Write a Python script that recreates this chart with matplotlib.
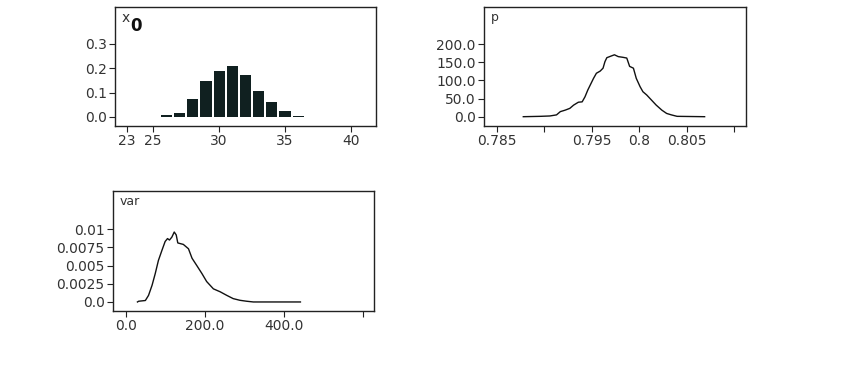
import numpy as np
import matplotlib.pyplot as plt

# x0 : posterior probabilities
x0_vals = [26, 27, 28, 29, 30, 31, 32, 33, 34, 35, 36]
x0_prob = [0.006, 0.018, 0.074, 0.146, 0.19, 0.21, 0.173, 0.105, 0.062, 0.024, 0.005]
x0_ticks = [23, 25, 30, 35, 40]

# p : density
p_x = [0.7878, 0.7896, 0.7906, 0.7913, 0.7917, 0.7922, 0.7927, 0.7931, 0.7936,
       0.7940, 0.7943, 0.7946, 0.7952, 0.7955, 0.7959, 0.7962, 0.7964, 0.7966,
       0.7969, 0.7974, 0.7978, 0.7983, 0.7987, 0.7990, 0.7994, 0.7997, 0.8001,
       0.8004, 0.8008, 0.8013, 0.8018, 0.8024, 0.8029, 0.8034, 0.8040, 0.8069]
p_y = [0, 1, 2, 5, 14, 18, 23, 32, 40, 41, 55, 74, 106, 120, 126, 134, 152,
       163, 166, 171, 166, 164, 162, 139, 134, 106, 83, 69, 60, 46, 32, 18,
       9, 5, 1, 0]
p_ticks = [0.785, 0.79, 0.795, 0.8, 0.805, 0.81]
p_labels = ["0.785", "", "0.795", "0.8", "0.805", ""]

# var : density
var_x = [29, 32, 49, 57, 66, 74, 82, 91, 99, 105, 110, 116, 122, 127, 131,
         145, 158, 167, 179, 192, 204, 221, 238, 255, 271, 288, 305, 322, 441]
var_y = [0, 0.0001, 0.0002, 0.0009, 0.0023, 0.0039, 0.0057, 0.0071, 0.0083,
         0.0087, 0.0085, 0.0089, 0.0096, 0.0092, 0.0081, 0.0079, 0.0073, 0.006,
         0.005, 0.0039, 0.0028, 0.0018, 0.0014, 0.0009, 0.00046, 0.00023,
         0.0001, 0, 0]
var_ticks = [0, 200, 400, 600]
var_labels = ["0.0", "200.0", "400.0", ""]

W, H = 844, 384
fig = plt.figure(figsize=(W / 100, H / 100), dpi=100)
txt = "#333333"


def box(l, t, r, b):
    ax = fig.add_axes([l / W, 1 - b / H, (r - l) / W, (b - t) / H])
    for s in ax.spines.values():
        s.set_color("#222222")
        s.set_linewidth(1)
    ax.tick_params(direction="out", length=4, colors="#222222",
                   labelcolor=txt, labelsize=10, pad=2)
    return ax


# panel x0
ax1 = box(115, 7, 376, 126)
ax1.bar(x0_vals, x0_prob, width=0.85, color="#102020")
ax1.set_xlim(22.1, 41.9)
ax1.set_ylim(-0.037, 0.45)
ax1.set_xticks(x0_ticks)
ax1.set_yticks([0.0, 0.1, 0.2, 0.3])
ax1.set_yticklabels(["0.0", "0.1", "0.2", "0.3"])
ax1.text(0.025, 0.97, "x", transform=ax1.transAxes, fontsize=10,
         color=txt, va="top")
ax1.text(0.06, 0.92, "0", transform=ax1.transAxes, fontsize=12,
         fontweight="bold", color="#111111", va="top")

# panel p
ax2 = box(484, 7, 746, 126)
ax2.plot(p_x, p_y, color="#111111", lw=1)
ax2.set_xlim(0.78366, 0.81126)
ax2.set_ylim(-25.7, 303)
ax2.set_xticks(p_ticks)
ax2.set_xticklabels(p_labels)
ax2.set_yticks([0, 50, 100, 150, 200])
ax2.set_yticklabels(["0.0", "50.0", "100.0", "150.0", "200.0"])
ax2.text(0.025, 0.97, "p", transform=ax2.transAxes, fontsize=9,
         color=txt, va="top")

# panel var
ax3 = box(113, 191, 374, 311)
ax3.plot(var_x, var_y, color="#111111", lw=1)
ax3.set_xlim(-32.8, 627)
ax3.set_ylim(-0.00124, 0.01523)
ax3.set_xticks(var_ticks)
ax3.set_xticklabels(var_labels)
ax3.set_yticks([0, 0.0025, 0.005, 0.0075, 0.01])
ax3.set_yticklabels(["0.0", "0.0025", "0.005", "0.0075", "0.01"])
ax3.text(0.025, 0.97, "var", transform=ax3.transAxes, fontsize=9,
         color=txt, va="top")

fig.savefig("out.png", dpi=100)
